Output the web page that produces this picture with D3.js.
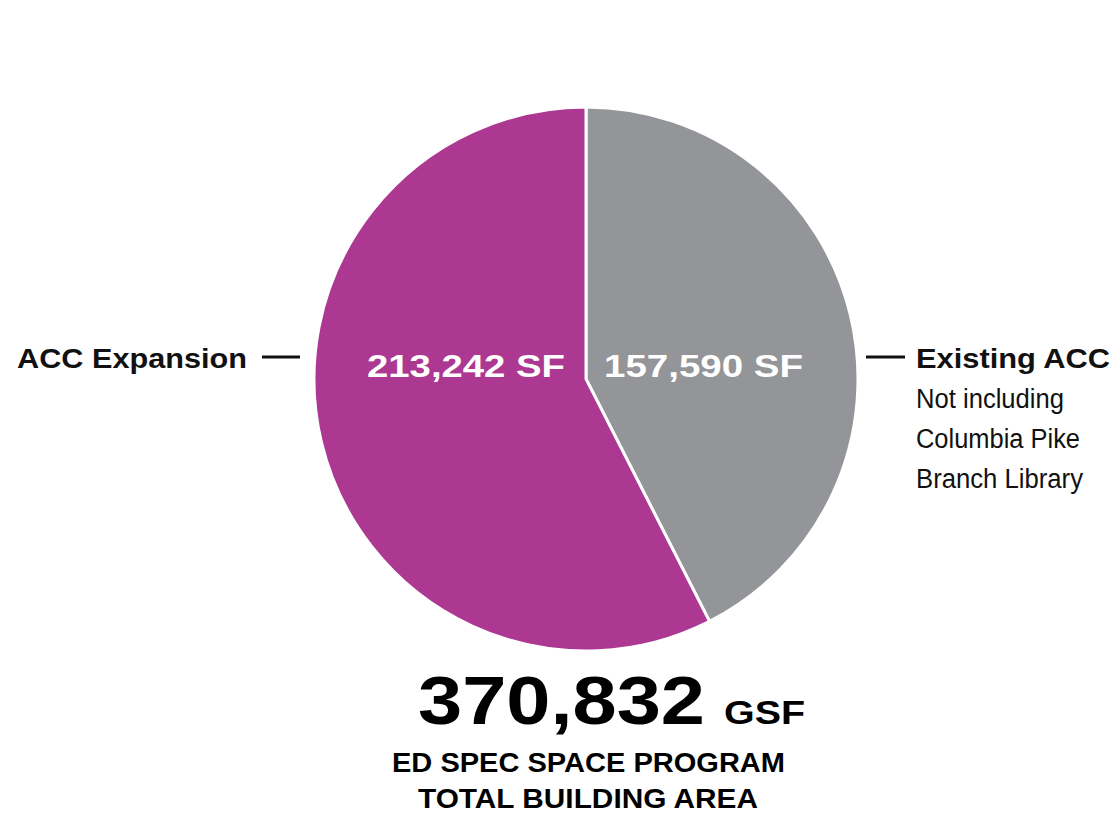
<!DOCTYPE html>
<html>
<head>
<meta charset="utf-8">
<script src="https://cdn.jsdelivr.net/npm/d3@7"></script>
<style>
  body { margin: 0; background: #fff; }
  text { font-family: "Liberation Sans", Arial, sans-serif; }
</style>
</head>
<body>
<svg id="drawing_region"></svg>
<script>
const categories = ["Existing ACC", "ACC Expansion"];
const values = [157590, 213242];
const valueLabels = ["157,590 SF", "213,242 SF"];
const colors = ["#939598", "#ac3892"];
const noteLines = ["Not including", "Columbia Pike", "Branch Library"];
const totalLabel = "370,832";

const config = {
    width: 1115,
    height: 815,
    cx: 586,
    cy: 379,
    radius: 272
};

const svg = d3.select('#drawing_region')
    .attr('width', config.width)
    .attr('height', config.height);

const data = categories.map((c, i) => ({label: c, value: values[i], text: valueLabels[i], color: colors[i]}));

const pie = d3.pie()
    .value(d => d.value)
    .sort(null);

const arc = d3.arc()
    .innerRadius(0)
    .outerRadius(config.radius);

const chart = svg.append('g')
    .attr('transform', `translate(${config.cx}, ${config.cy})`);

chart.selectAll('path')
    .data(pie(data))
    .join('path')
    .attr('d', arc)
    .attr('fill', d => d.data.color)
    .attr('stroke', '#fff')
    .attr('stroke-width', 3);

// helper for stretched text
function label(x, y, str, size, len, opts) {
    opts = opts || {};
    const t = svg.append('text')
        .attr('x', x)
        .attr('y', y)
        .attr('font-size', size + 'px')
        .attr('font-weight', opts.weight || 'bold')
        .attr('fill', opts.fill || '#111')
        .text(str);
    if (len) t.attr('textLength', len).attr('lengthAdjust', 'spacingAndGlyphs');
    return t;
}

// value labels inside slices
label(config.cx + 18, config.cy - 2, valueLabels[0], 31, 199, {fill: '#fff'});
label(config.cx - 219, config.cy - 2, valueLabels[1], 31, 198, {fill: '#fff'});

// left label
label(17, 368, categories[1], 28, 230);
svg.append('line')
    .attr('x1', 262).attr('x2', 300)
    .attr('y1', 357).attr('y2', 357)
    .attr('stroke', '#111')
    .attr('stroke-width', 3);

// right label
svg.append('line')
    .attr('x1', 866).attr('x2', 905)
    .attr('y1', 357).attr('y2', 357)
    .attr('stroke', '#111')
    .attr('stroke-width', 3);
label(916, 368, categories[0], 28, 194);

svg.selectAll('text.note')
    .data(noteLines)
    .join('text')
    .attr('class', 'note')
    .attr('x', 916)
    .attr('y', (d, i) => 408 + i * 40)
    .attr('font-size', '27px')
    .attr('fill', '#111')
    .attr('textLength', (d, i) => [148, 164, 167][i])
    .attr('lengthAdjust', 'spacingAndGlyphs')
    .text(d => d);

// total
label(418, 724, totalLabel, 69, 287, {fill: '#000'});
label(724, 724, "GSF", 34, 81, {fill: '#000'});
label(392, 772, "ED SPEC SPACE PROGRAM", 27, 393, {fill: '#000'});
label(418, 808, "TOTAL BUILDING AREA", 27, 340, {fill: '#000'});
</script>
</body>
</html>
